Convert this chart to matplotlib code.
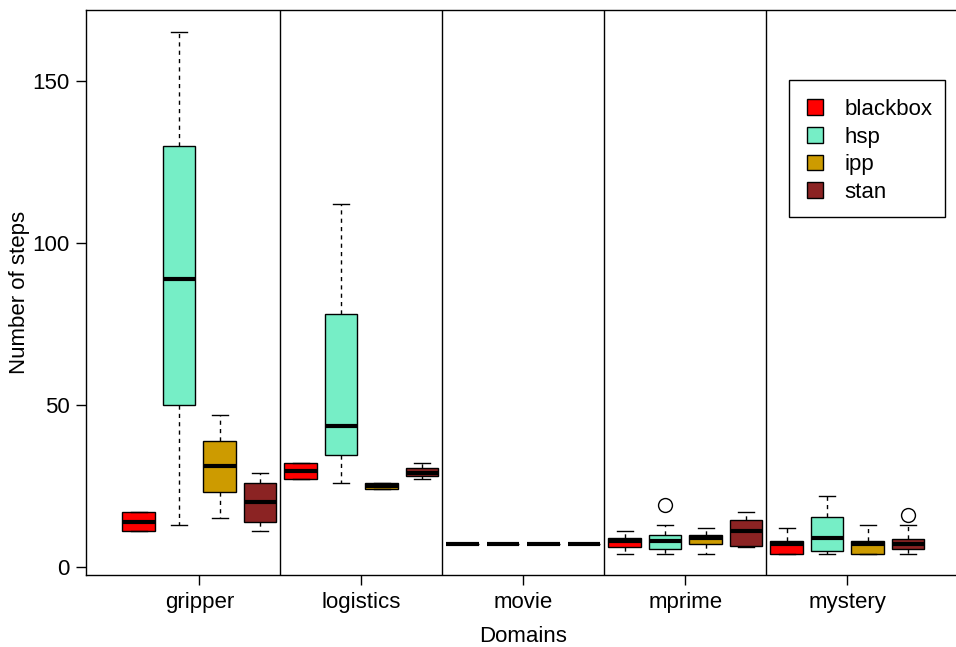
import matplotlib
matplotlib.use("Agg")
import matplotlib.pyplot as plt
from matplotlib.patches import Patch, Rectangle

plt.rcParams['font.family'] = ['Liberation Sans', 'DejaVu Sans']
plt.rcParams['font.size'] = 16

domains = ["gripper", "logistics", "movie", "mprime", "mystery"]
planners = ["blackbox", "hsp", "ipp", "stan"]
colors = ["#FF0000", "#76EEC6", "#CD9B00", "#8B2323"]

# per domain: [low whisker, q1, median, q3, high whisker]
blackbox = [[11, 11, 14, 17, 17], [27, 27, 29.5, 32, 32], [7, 7, 7, 7, 7],
            [4, 6, 8, 9, 11], [4, 4, 7, 8, 12]]
hsp = [[13, 50, 89, 130, 165], [26, 34.5, 43.5, 78, 112], [7, 7, 7, 7, 7],
       [4, 5.5, 8, 10, 13], [4, 5, 9, 15.5, 22]]
ipp = [[15, 23, 31, 39, 47], [24, 24, 25, 26, 26], [7, 7, 7, 7, 7],
       [4, 7, 9, 10, 12], [4, 4, 7, 8, 13]]
stan = [[11, 14, 20, 26, 29], [27, 28, 29, 30.5, 32], [7, 7, 7, 7, 7],
        [6, 6.5, 11, 14.5, 17], [4, 5.5, 7, 8.5, 13]]

blackbox_out = [[], [], [], [], []]
hsp_out = [[], [], [], [19], []]
ipp_out = [[], [], [], [], []]
stan_out = [[], [], [], [], [16]]

series = [blackbox, hsp, ipp, stan]
fliers = [blackbox_out, hsp_out, ipp_out, stan_out]
offsets = [-0.375, -0.125, 0.125, 0.375]

fig = plt.figure(figsize=(9.56, 6.47), dpi=100)
# right edge of the frame sits just past the canvas
ax = fig.add_axes([86 / 956, 1 - 575 / 647, 874.8 / 956, 565 / 647])

for k, (vals, outs, col) in enumerate(zip(series, fliers, colors)):
    stats = []
    for d in range(len(domains)):
        lo, q1, med, q3, hi = vals[d]
        stats.append(dict(whislo=lo, q1=q1, med=med, q3=q3, whishi=hi,
                          fliers=outs[d]))
    pos = [d + 1 + offsets[k] for d in range(len(domains))]
    ax.bxp(stats, positions=pos, widths=0.2, capwidths=0.1,
           patch_artist=True, manage_ticks=False,
           boxprops=dict(facecolor=col, edgecolor="black", linewidth=1),
           medianprops=dict(color="black", linewidth=3, solid_capstyle="butt"),
           whiskerprops=dict(color="black", linewidth=1, linestyle=(0, (3, 3))),
           capprops=dict(color="black", linewidth=1),
           flierprops=dict(marker="o", markerfacecolor="none",
                           markeredgecolor="black", markersize=10,
                           markeredgewidth=1))

# separators between domains
for x in [1.5, 2.5, 3.5, 4.5]:
    ax.axvline(x, color="black", linewidth=1)

ax.set_xlim(0.3, 5.7)
ax.set_ylim(-2.5, 171.9)
ax.set_xticks(range(1, len(domains) + 1))
ax.set_xticklabels(domains)
ax.set_yticks([0, 50, 100, 150])
ax.tick_params(direction="out", length=7, width=1, pad=5)
for s in ax.spines.values():
    s.set_linewidth(1)
ax.spines["right"].set_visible(False)

fig.text(20 / 956, 1 - 292 / 647, "Number of steps", rotation=90,
         ha="center", va="center")
fig.text(523.5 / 956, 1 - 636 / 647, "Domains", ha="center", va="center")

# legend entries without their own frame, boxed separately
handles = [Patch(facecolor=c, edgecolor="black", linewidth=1) for c in colors]
fig.legend(handles, planners, loc="upper left",
           bbox_to_anchor=(807 / 956, 1 - 99 / 647), borderaxespad=0,
           borderpad=0, frameon=False,
           handlelength=0.72, handleheight=0.72, handletextpad=0.95,
           labelspacing=0.3)
fig.patches.append(Rectangle((789 / 956, 1 - 217 / 647), 156 / 956, 137 / 647,
                             transform=fig.transFigure, fill=False,
                             edgecolor="black", linewidth=1, zorder=5))

fig.savefig("out.png", dpi=100)
